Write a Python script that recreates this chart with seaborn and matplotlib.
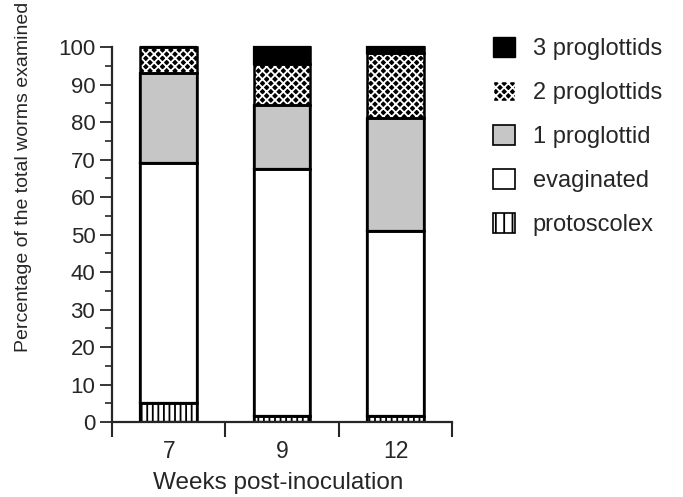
import numpy as np
import pandas as pd
import matplotlib
matplotlib.use("Agg")
import matplotlib.pyplot as plt
import seaborn as sns
from matplotlib.patches import Patch
from matplotlib.ticker import MultipleLocator, FixedLocator

# --- data ---
weeks = ["7", "9", "12"]
protoscolex = [5, 1.5, 1.5]
evaginated = [64, 66, 49.5]
one_prog = [24, 17, 30]
two_prog = [7, 11, 17.5]
three_prog = [0, 4.5, 1.5]

layers = [
    ("protoscolex", protoscolex),
    ("evaginated", evaginated),
    ("1 proglottid", one_prog),
    ("2 proglottids", two_prog),
    ("3 proglottids", three_prog),
]

sns.set_style("ticks")
plt.rcParams['font.family'] = ['Liberation Sans', 'DejaVu Sans']
plt.rcParams['hatch.linewidth'] = 1.3

fig = plt.figure(figsize=(6.83, 4.97), dpi=100)
ax = fig.add_axes([0.164, 0.1509, 0.498, 0.7696])

styles = {
    "protoscolex": dict(color="white", hatch="|||", edgecolor="black", linewidth=1.6),
    "evaginated": dict(color="white", edgecolor="black", linewidth=1.6),
    "1 proglottid": dict(color="#c6c6c6", edgecolor="black", linewidth=1.6),
    "2 proglottids": dict(color="black", hatch="xxxx", edgecolor="white", linewidth=0),
    "3 proglottids": dict(color="black", edgecolor="black", linewidth=1.6),
}

bottom = np.zeros(len(weeks))
for name, vals in layers:
    df = pd.DataFrame({"week": weeks, "pct": vals})
    sns.barplot(data=df, x="week", y="pct", bottom=bottom, width=0.5,
                saturation=1, ax=ax, **styles[name])
    bottom = bottom + np.array(vals)

# outlines around layer edges
bottom = np.zeros(len(weeks))
for name, vals in layers:
    df = pd.DataFrame({"week": weeks, "pct": vals})
    sns.barplot(data=df, x="week", y="pct", bottom=bottom, width=0.5,
                fill=False, color="black", saturation=1, linewidth=1.8, ax=ax)
    bottom = bottom + np.array(vals)

ax.set_xlim(-0.5, 2.5)
ax.set_ylim(0, 102)
sns.despine(ax=ax)
ax.spines['left'].set_bounds(0, 100)
ax.spines['left'].set_linewidth(1.6)
ax.spines['bottom'].set_linewidth(1.6)

ax.set_xticks([0, 1, 2])
ax.set_xticklabels(weeks)
ax.xaxis.set_minor_locator(FixedLocator([-0.5, 0.5, 1.5, 2.5]))
ax.tick_params(axis='x', which='major', length=0, labelsize=16.5, pad=13)
ax.tick_params(axis='x', which='minor', length=11, width=1.5)

ax.yaxis.set_major_locator(MultipleLocator(10))
ax.yaxis.set_minor_locator(MultipleLocator(5))
ax.tick_params(axis='y', which='major', length=9, width=1.3, labelsize=16, pad=3)
ax.tick_params(axis='y', which='minor', length=5, width=1.2)

ax.set_xlabel("Weeks post-inoculation", fontsize=17.5)
ax.set_ylabel("Percentage of the total worms examined", fontsize=14)
ax.xaxis.set_label_coords(0.49, -0.13)
ax.yaxis.set_label_coords(-0.235, 0.64)

handles = [
    Patch(facecolor="black", edgecolor="black", label="3 proglottids"),
    Patch(facecolor="black", edgecolor="white", hatch="xxxx", label="2 proglottids"),
    Patch(facecolor="#c6c6c6", edgecolor="black", linewidth=1.2, label="1 proglottid"),
    Patch(facecolor="white", edgecolor="black", linewidth=1.2, label="evaginated"),
    Patch(facecolor="white", edgecolor="black", hatch="||", linewidth=1.2, label="protoscolex"),
]
fig.legend(handles=handles, loc="upper left", bbox_to_anchor=(0.69, 0.969),
           frameon=False, fontsize=17, handlelength=0.95, handleheight=0.95,
           handletextpad=0.75, labelspacing=0.88)

plt.savefig("out.png", dpi=100)
plt.close()
